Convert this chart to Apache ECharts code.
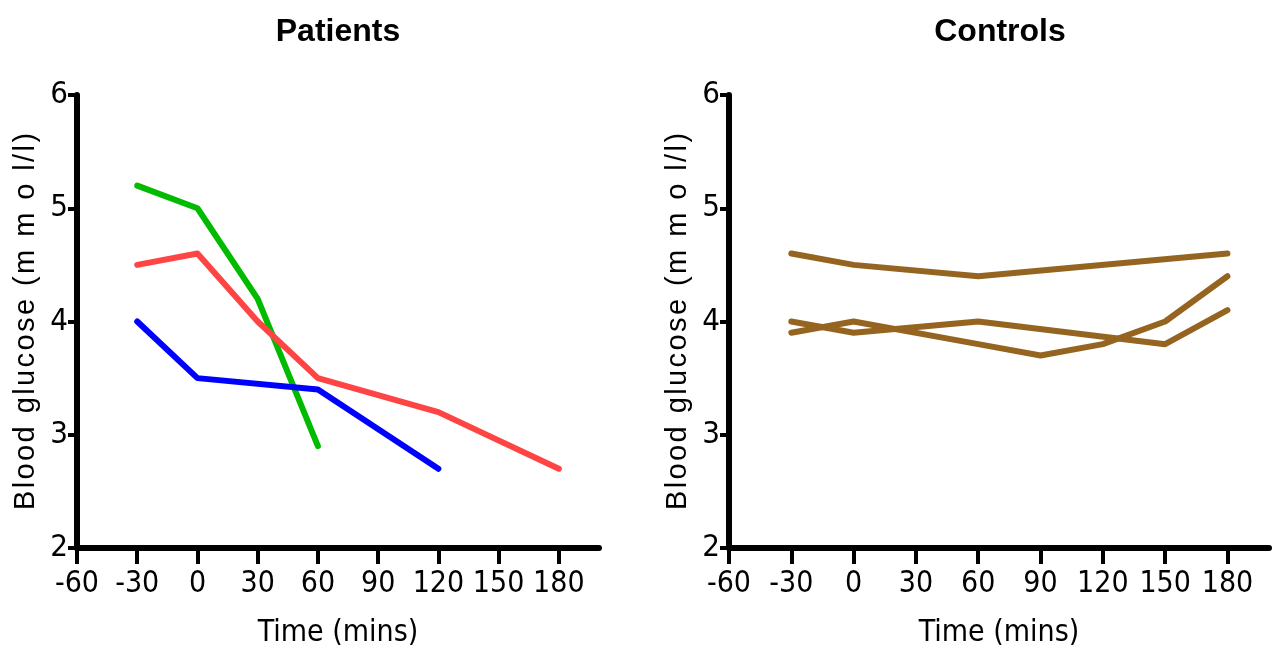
<!DOCTYPE html>
<html>
<head>
<meta charset="utf-8">
<script src="https://cdn.jsdelivr.net/npm/echarts@6/dist/echarts.min.js"></script>
<style>
  html, body { margin: 0; padding: 0; background: #fff; }
  #chart { width: 1274px; height: 656px; }
</style>
</head>
<body>
<div id="chart"></div>
<script>
// tick values
let timeTicks = [-60, -30, 0, 30, 60, 90, 120, 150, 180];
let glucoseTicks = [2, 3, 4, 5, 6];

// patients
let greenTimes = [-30, 0, 30, 60];
let greenGlucose = [5.2, 5.0, 4.2, 2.9];
let redTimes = [-30, 0, 30, 60, 120, 180];
let redGlucose = [4.5, 4.6, 4.0, 3.5, 3.2, 2.7];
let blueTimes = [-30, 0, 60, 120];
let blueGlucose = [4.0, 3.5, 3.4, 2.7];

// controls
let ctrlATimes = [-30, 0, 60, 180];
let ctrlAGlucose = [4.6, 4.5, 4.4, 4.6];
let ctrlBTimes = [-30, 0, 60, 90, 120, 150, 180];
let ctrlBGlucose = [3.9, 4.0, 3.8, 3.7, 3.8, 4.0, 4.4];
let ctrlCTimes = [-30, 0, 60, 150, 180];
let ctrlCGlucose = [4.0, 3.9, 4.0, 3.8, 4.1];

let chart = echarts.init(document.querySelector('#chart'));

let narrow = '"DejaVu Sans Condensed", "Liberation Sans", sans-serif';
let regular = '"Liberation Sans", Arial, sans-serif';

function pairs(xs, ys) {
  return xs.map((x, i) => [x, ys[i]]);
}

// spread the y axis name a bit, like the original
function spaced(str) {
  return str.split('').join('\u200A');
}

function xAxisFor(idx) {
  return {
    gridIndex: idx,
    type: 'value',
    min: -60,
    max: 200,
    interval: 30,
    name: 'Time (mins)',
    nameLocation: 'middle',
    nameGap: 70,
    nameTextStyle: { fontFamily: narrow, fontSize: 30, color: '#000' },
    axisLine: { onZero: false, lineStyle: { color: '#000', width: 6, cap: 'round' } },
    axisTick: { show: true, length: 16, lineStyle: { color: '#000', width: 4 }, customValues: timeTicks },
    axisLabel: { fontFamily: narrow, fontSize: 30, color: '#000', margin: 21, customValues: timeTicks },
    splitLine: { show: false }
  };
}

function yAxisFor(idx) {
  return {
    gridIndex: idx,
    type: 'value',
    min: 2,
    max: 6,
    interval: 1,
    name: spaced('Blood glucose (m m o l/l)'),
    nameLocation: 'middle',
    nameGap: 37,
    nameTextStyle: { fontFamily: regular, fontSize: 29, color: '#000' },
    axisLine: { show: true, onZero: false, lineStyle: { color: '#000', width: 6 } },
    axisTick: { show: true, length: 9, lineStyle: { color: '#000', width: 4 } },
    axisLabel: { fontFamily: narrow, fontSize: 31, color: '#000', margin: 9 },
    splitLine: { show: false }
  };
}

function lineSeries(idx, xs, ys, color) {
  return {
    type: 'line',
    xAxisIndex: idx,
    yAxisIndex: idx,
    data: pairs(xs, ys),
    symbol: 'none',
    lineStyle: { color: color, width: 6, cap: 'round', join: 'round' },
    animation: false
  };
}

let brown = '#966421';

let option = {
  backgroundColor: '#fff',
  animation: false,
  title: [
    { text: 'Patients', left: 333, top: 11, textAlign: 'center',
      textStyle: { fontFamily: regular, fontWeight: 'bold', fontSize: 32, color: '#000' } },
    { text: 'Controls', left: 995, top: 11, textAlign: 'center',
      textStyle: { fontFamily: regular, fontWeight: 'bold', fontSize: 32, color: '#000' } }
  ],
  grid: [
    { left: 77, top: 95, width: 522, height: 453 },
    { left: 729, top: 95, width: 540, height: 453 }
  ],
  xAxis: [xAxisFor(0), xAxisFor(1)],
  yAxis: [yAxisFor(0), yAxisFor(1)],
  series: [
    lineSeries(0, greenTimes, greenGlucose, '#00bb00'),
    lineSeries(0, redTimes, redGlucose, '#ff4444'),
    lineSeries(0, blueTimes, blueGlucose, '#0000ff'),
    lineSeries(1, ctrlATimes, ctrlAGlucose, brown),
    lineSeries(1, ctrlBTimes, ctrlBGlucose, brown),
    lineSeries(1, ctrlCTimes, ctrlCGlucose, brown)
  ]
};

chart.setOption(option);
</script>
</body>
</html>
